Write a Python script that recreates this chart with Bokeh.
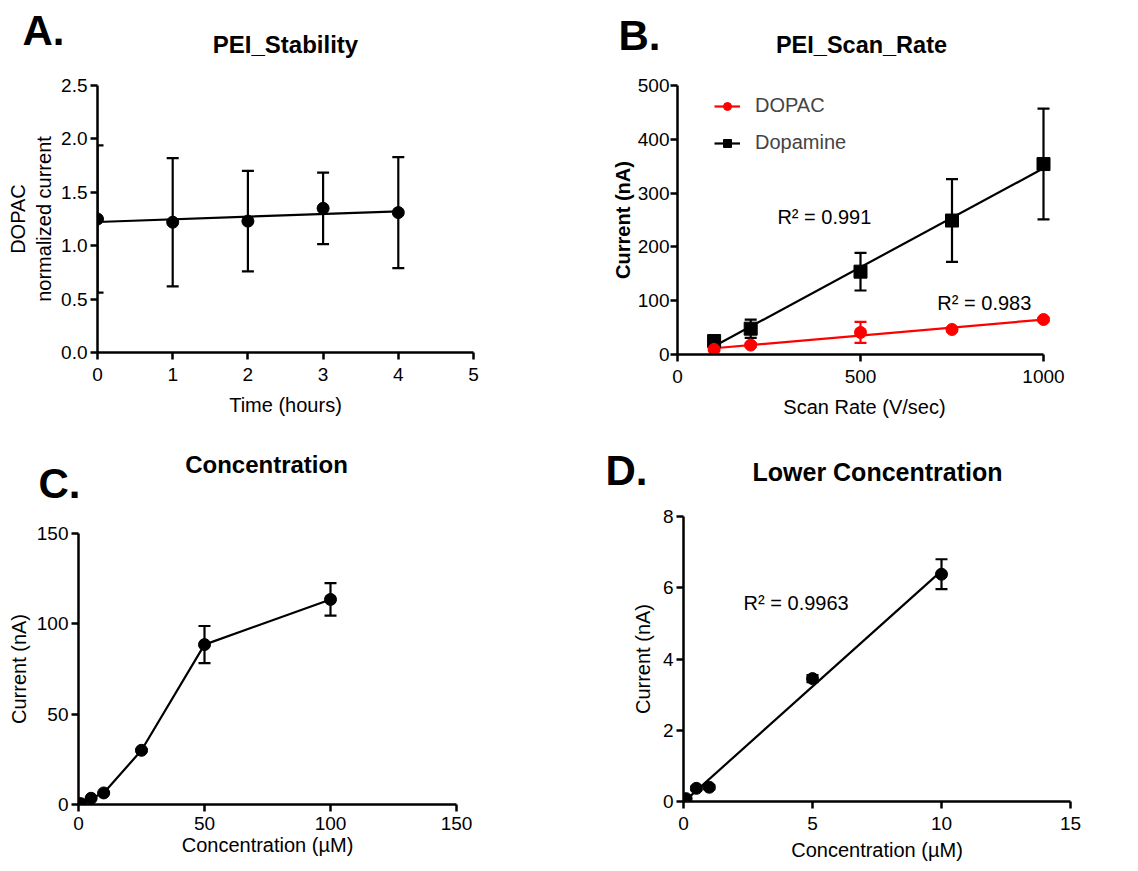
import numpy as np
from bokeh.plotting import figure
from bokeh.models import (Range1d, FixedTicker, NumeralTickFormatter, Whisker, TeeHead,
                          ColumnDataSource, Label, Legend, LegendItem)
from bokeh.layouts import column, row
from bokeh.embed import file_html
from bokeh.resources import INLINE

# ---------------- data ----------------
# Panel A: PEI stability
stab_time = [0, 1, 2, 3, 4]
stab_current = [1.25, 1.22, 1.23, 1.35, 1.31]
stab_err = [0.69, 0.60, 0.47, 0.335, 0.52]

# Panel B: scan rate
scan_rate = [100, 200, 500, 750, 1000]
dopac_current = [9.5, 17.5, 41, 46.5, 65]
dopac_err = [3, 3, 19.5, 3, 3]
da_current = [25, 48, 154, 249, 354]
da_err = [5, 17, 35, 77, 103]
r2_da_text = "R² = 0.991"
r2_dopac_text = "R² = 0.983"

# Panel C: concentration
conc = [0.1, 0.5, 1, 5, 10, 25, 50, 100]
conc_current = [0.08, 0.37, 0.40, 3.45, 6.4, 30, 88.5, 113.5]
conc_err = [0.02, 0.05, 0.05, 0.1, 0.42, 0.6, 10.3, 9.0]

# Panel D: lower concentration
low_conc = [0.1, 0.5, 1, 5, 10]
low_current = [0.08, 0.37, 0.40, 3.45, 6.38]
low_err = [0.02, 0.05, 0.05, 0.1, 0.42]
r2_low_text = "R² = 0.9963"

# titles
panel_letters = ["A.", "B.", "C.", "D."]
panel_titles = ["PEI_Stability", "PEI_Scan_Rate", "Concentration", "Lower Concentration"]

FONT = "Liberation Sans"
TOTAL_W = 1136


def make_fig(w, h, bl, br, bt, bb, xlim, ylim, plot_px, pad, xt, yt, xlabel, ylabel,
             y_bold=False, x_std=(6, 6), y_std=(3, 6)):
    # plot_px: axis width in px; pad: (left, right) px of extra frame room
    ppx = plot_px / (xlim[1] - xlim[0])
    xr = Range1d(xlim[0] - pad[0] / ppx, xlim[1] + pad[1] / ppx)
    p = figure(width=w, height=h, x_range=xr, y_range=Range1d(*ylim),
               output_backend="svg", toolbar_location=None, tools="",
               min_border_left=bl, min_border_right=br,
               min_border_top=bt, min_border_bottom=bb)
    p.outline_line_color = None
    p.xgrid.visible = False
    p.ygrid.visible = False
    p.background_fill_color = "white"
    p.border_fill_color = "white"
    for ax in (p.xaxis[0], p.yaxis[0]):
        ax.axis_line_width = 2.5
        ax.axis_line_color = "black"
        ax.major_tick_line_width = 2.5
        ax.major_tick_line_color = "black"
        ax.major_tick_out = 7
        ax.major_tick_in = 0
        ax.minor_tick_line_color = None
        ax.major_label_text_font = FONT
        ax.major_label_text_font_size = "19px"
        ax.major_label_text_color = "black"
        ax.axis_label_text_font = FONT
        ax.axis_label_text_font_size = "20px"
        ax.axis_label_text_font_style = "normal"
        ax.axis_label_text_color = "black"
    p.xaxis[0].ticker = FixedTicker(ticks=xt)
    p.yaxis[0].ticker = FixedTicker(ticks=yt)
    p.xaxis[0].bounds = tuple(xlim)
    p.xaxis[0].axis_label = xlabel
    p.yaxis[0].axis_label = ylabel
    p.xaxis[0].major_label_standoff = x_std[0]
    p.xaxis[0].axis_label_standoff = x_std[1]
    p.yaxis[0].major_label_standoff = y_std[0]
    p.yaxis[0].axis_label_standoff = y_std[1]
    if y_bold:
        p.yaxis[0].axis_label_text_font_style = "bold"
    return p


def add_text(p, x, y, txt, size, bold=False, align="left"):
    p.add_layout(Label(x=x, y=y, text=txt,
                       text_font=FONT, text_font_size=size,
                       text_font_style="bold" if bold else "normal",
                       text_color="black", text_align=align,
                       text_baseline="alphabetic"))


def add_err(p, xs, ys, es, color):
    src = ColumnDataSource(dict(x=xs, lo=[y - e for y, e in zip(ys, es)],
                                hi=[y + e for y, e in zip(ys, es)]))
    w = Whisker(base="x", lower="lo", upper="hi", source=src,
                line_color=color, line_width=2.2,
                upper_head=TeeHead(size=12, line_width=2.2, line_color=color),
                lower_head=TeeHead(size=12, line_width=2.2, line_color=color),
                level="underlay")
    p.add_layout(w)


def fit_line(p, xs, ys, color):
    k, b = np.polyfit(xs, ys, 1)
    xx = [min(xs), max(xs)]
    return p.line(xx, [k * v + b for v in xx], line_color=color, line_width=2.2)


def header(w, h, x0, y0, items):
    # header strip; data coordinates equal page pixels
    hp = figure(width=w, height=h, x_range=Range1d(x0, x0 + w),
                y_range=Range1d(y0 + h, y0), output_backend="svg",
                toolbar_location=None, tools="", min_border=0,
                x_axis_location=None, y_axis_location=None)
    hp.outline_line_color = None
    hp.xgrid.visible = False
    hp.ygrid.visible = False
    for (x, y, txt, size, align) in items:
        add_text(hp, x, y, txt, size, bold=True, align=align)
    return hp


# ---------------- headers (panel letters + titles) ----------------
head1 = header(TOTAL_W, 62, 0, 0,
               [(22, 30, panel_letters[0], "42px", "left"),
                (285, 44, panel_titles[0], "24px", "center"),
                (618, 35, panel_letters[1], "42px", "left"),
                (861, 44, panel_titles[1], "23.5px", "center")])
hC = header(570, 78, 0, 430, [(38, 483, panel_letters[2], "42px", "left"),
                              (266, 464, panel_titles[2], "24px", "center")])
hD = header(566, 70, 570, 430, [(605, 470, panel_letters[3], "42px", "left"),
                                (877, 471, panel_titles[3], "25px", "center")])

# ---------------- Panel A ----------------
pA = make_fig(570, 368, 97, 97, 23, 78, (0, 5), (0, 2.5), 376, (0, 0),
              [0, 1, 2, 3, 4, 5], [0, 0.5, 1.0, 1.5, 2.0, 2.5],
              "Time (hours)", "DOPAC\nnormalized current",
              x_std=(8, 10), y_std=(3, 3))
pA.yaxis[0].formatter = NumeralTickFormatter(format="0.0")
add_err(pA, stab_time, stab_current, stab_err, "black")
fit_line(pA, stab_time, stab_current, "black")
pA.scatter(stab_time, stab_current, size=12, marker="circle", color="black")

# ---------------- Panel B ----------------
pB = make_fig(566, 368, 107, 85, 23, 76, (0, 1000), (0, 500), 366, (0, 8),
              [0, 500, 1000], [0, 100, 200, 300, 400, 500],
              "Scan Rate (V/sec)", "Current (nA)", y_bold=True,
              x_std=(8, 10), y_std=(1, 1))
add_err(pB, scan_rate, da_current, da_err, "black")
add_err(pB, scan_rate, dopac_current, dopac_err, "red")
da_line = fit_line(pB, scan_rate, da_current, "black")
dopac_line = fit_line(pB, scan_rate, dopac_current, "red")
da_sc = pB.scatter(scan_rate, da_current, size=13, marker="square", color="black")
dopac_sc = pB.scatter(scan_rate, dopac_current, size=12, marker="circle", color="red")
legend = Legend(items=[LegendItem(label="DOPAC", renderers=[dopac_line, dopac_sc]),
                       LegendItem(label="Dopamine", renderers=[da_line, da_sc])],
                location=(37, 200), orientation="vertical", padding=0, margin=0,
                spacing=14, glyph_width=26, glyph_height=20, label_standoff=15,
                label_text_font=FONT, label_text_font_size="20px",
                border_line_color=None, background_fill_alpha=0)
pB.add_layout(legend)
add_text(pB, 273, 256, r2_da_text, "20px")
add_text(pB, 710, 95, r2_dopac_text, "20px")

# ---------------- Panel C ----------------
pC = make_fig(570, 363, 78, 114, 25, 67, (0, 150), (0, 150), 378, (0, 0),
              [0, 50, 100, 150], [0, 50, 100, 150],
              "Concentration (µM)", "Current (nA)",
              x_std=(5, 1), y_std=(3, 4))
add_err(pC, conc, conc_current, conc_err, "black")
pC.line(conc, conc_current, line_color="black", line_width=2.2)
pC.scatter(conc, conc_current, size=12, marker="circle", color="black")

# ---------------- Panel D ----------------
pD = make_fig(566, 371, 113, 66, 16, 70, (0, 15), (0, 8), 387, (0, 0),
              [0, 5, 10, 15], [0, 2, 4, 6, 8],
              "Concentration (µM)", "Current (nA)",
              x_std=(8, 6), y_std=(3, 6))
add_err(pD, low_conc, low_current, low_err, "black")
fit_line(pD, low_conc, low_current, "black")
pD.scatter(low_conc, low_current, size=12, marker="circle", color="black")
add_text(pD, 2.33, 5.56, r2_low_text, "20px")

# nested single-child columns keep Bokeh from aligning frames across plots
colC = column(column(hC), column(pC), spacing=0)
colD = column(column(hD), column(pD), spacing=0)
layout = column(head1,
                row(column(pA), column(pB), spacing=0),
                row(colC, colD, spacing=0),
                spacing=0)

with open("out.html", "w") as f:
    f.write(file_html(layout, INLINE))
